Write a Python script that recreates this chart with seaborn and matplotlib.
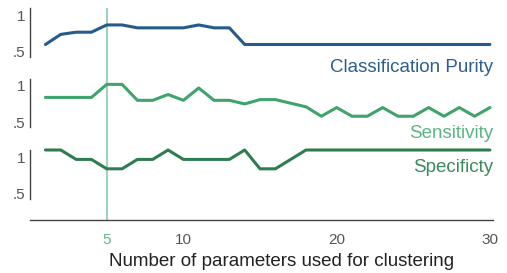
import numpy as np
import pandas as pd
import matplotlib
matplotlib.use("Agg")
import matplotlib.pyplot as plt
import seaborn as sns

sns.set_theme(style="white")
plt.rcParams['font.family'] = ['Liberation Sans', 'DejaVu Sans']

# ---- data ----
n_params = list(range(1, 31))
purity = [0.60, 0.74, 0.77, 0.77, 0.87, 0.87, 0.83, 0.83, 0.83, 0.83,
          0.87, 0.83, 0.83, 0.60, 0.60, 0.60, 0.60, 0.60, 0.60, 0.60,
          0.60, 0.60, 0.60, 0.60, 0.60, 0.60, 0.60, 0.60, 0.60, 0.60]
sensitivity = [0.84, 0.84, 0.84, 0.84, 1.02, 1.02, 0.80, 0.80, 0.88, 0.80,
               0.97, 0.80, 0.80, 0.75, 0.81, 0.81, 0.76, 0.71, 0.58, 0.70,
               0.58, 0.58, 0.70, 0.58, 0.58, 0.70, 0.58, 0.70, 0.58, 0.70]
specificity = [1.10, 1.10, 0.97, 0.97, 0.84, 0.84, 0.97, 0.97, 1.10, 0.97,
               0.97, 0.97, 0.97, 1.10, 0.84, 0.84, 0.97, 1.10, 1.10, 1.10,
               1.10, 1.10, 1.10, 1.10, 1.10, 1.10, 1.10, 1.10, 1.10, 1.10]
series_names = ["Classification Purity", "Sensitivity", "Specificty"]
line_colors = ["#245a8c", "#3fa36b", "#2e7d50"]
label_colors = ["#2b5f8f", "#5cb584", "#3a8a5c"]
y_ticks = [0.5, 1.0]
y_ticklabels = [".5", "1"]
x_ticks = [5, 10, 20, 30]
x_ticklabels = ["5", "10", "20", "30"]
highlight_x = 5
xlabel = "Number of parameters used for clustering"

W, H = 507, 273
fig = plt.figure(figsize=(W / 100, H / 100), dpi=100)

def px_axes(left, top, right, bottom):
    return fig.add_axes([left / W, 1 - bottom / H, (right - left) / W, (bottom - top) / H])

XL = (-0.04, 30.2)
AX_L, AX_R = 29.5, 493

# background / bottom axis
base = px_axes(AX_L, 8, AX_R, 220)
base.set_xlim(*XL)
base.set_ylim(0, 1)
base.patch.set_alpha(0)
for s in ["top", "right", "left"]:
    base.spines[s].set_visible(False)
base.spines["bottom"].set_color("#444444")
base.spines["bottom"].set_linewidth(1.0)
base.set_yticks([])
base.set_xticks(x_ticks)
base.set_xticklabels(x_ticklabels, fontsize=11, color="#555555")
base.tick_params(axis="x", length=0, pad=9)
base.get_xticklabels()[0].set_color("#5db58a")
base.axvline(highlight_x, color="#9ad4bb", lw=1.5, zorder=0)

df = pd.DataFrame({"n": n_params, series_names[0]: purity,
                   series_names[1]: sensitivity, series_names[2]: specificity})

tops = [8.3, 78.6, 150]
label_y = [67, 133, 168]
for i, name in enumerate(series_names):
    ax = px_axes(AX_L, tops[i], AX_R, tops[i] + 48.5)
    ax.patch.set_alpha(0)
    sns.lineplot(data=df, x="n", y=name, ax=ax, color=line_colors[i], lw=2.2, clip_on=False)
    ax.set_xlim(*XL)
    ax.set_ylim(0.43, 1.1)
    ax.set_xticks([])
    ax.set_yticks(y_ticks)
    ax.set_yticklabels(y_ticklabels, fontsize=11, color="#555555")
    ax.tick_params(axis="y", length=0, pad=3)
    ax.set_xlabel("")
    ax.set_ylabel("")
    for s in ["top", "right", "bottom"]:
        ax.spines[s].set_visible(False)
    ax.spines["left"].set_color("#444444")
    ax.spines["left"].set_linewidth(1.0)
    fig.text(493 / W, 1 - label_y[i] / H, name, ha="right", va="center",
             fontsize=13.5, color=label_colors[i])

fig.text(281.5 / W, 1 - 261 / H, xlabel, ha="center", va="center", fontsize=13.5, color="#222222")

fig.savefig("out.png", dpi=100)
